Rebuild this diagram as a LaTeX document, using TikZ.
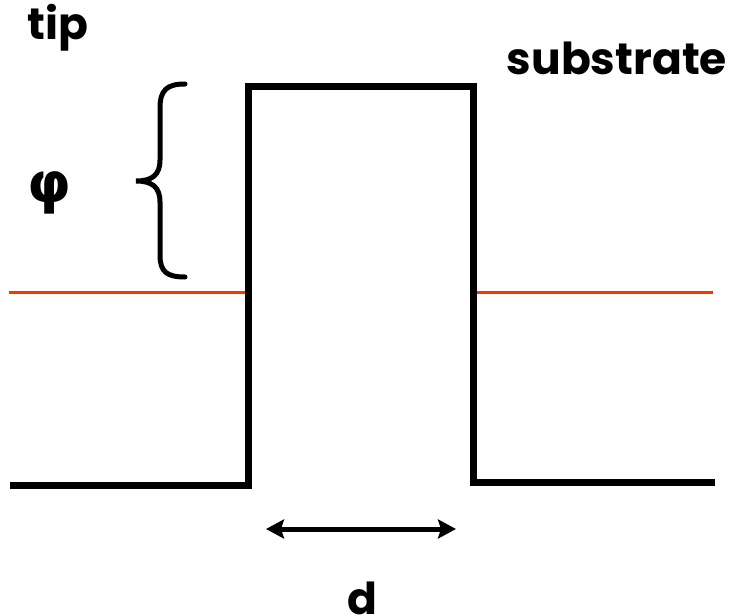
\documentclass[tikz,border=0pt]{standalone}
\usepackage{fontspec}
\setmainfont{Poppins}
\newfontfamily\greekfont{DejaVu Sans}
\usetikzlibrary{arrows.meta}
\tikzset{
  level/.style={line width=7pt, line cap=butt, line join=miter},
  fermi/.style={line width=3pt, draw={rgb,255:red,255;green,51;blue,0}},
  brace/.style={line width=5pt, line cap=round},
  dim/.style={line width=5pt, {Stealth[length=18pt,width=19pt,inset=3pt]}-{Stealth[length=18pt,width=19pt,inset=3pt]}},
  lbl/.style={font=\bfseries\fontsize{44}{50}\selectfont, inner sep=0pt}
}
\begin{document}
\begin{tikzpicture}[x=1pt,y=-1pt]
\useasboundingbox (0,0) rectangle (732,616);
% barrier profile
\draw[level] (10,485) -- (248.5,485) -- (248.5,86) -- (473.5,86) -- (473.5,482) -- (715,482);
% fermi levels
\draw[fermi] (9,292.5) -- (245,292.5);
\draw[fermi] (477,292.5) -- (713,292.5);
% brace
\draw[brace] (185,84) .. controls (167,84) and (160,90) .. (160,108) -- (160,160)
  .. controls (160,175) and (152,181) .. (136,181)
  .. controls (152,181) and (160,187) .. (160,202) -- (160,255)
  .. controls (160,272) and (167,277) .. (185,277);
% width arrow
\coordinate (dl) at (266,529);
\coordinate (dr) at (456,529);
\draw[dim] (dl) -- (dr);
% labels
\node[lbl] (tip) at (58,28) {tip};
\node[lbl] (sub) at (617,58) {substrate};
\node[lbl, font=\greekfont\bfseries\fontsize{56}{60}\selectfont] (phi) at (49,193) {φ};
\node[lbl] (d) at (362,598) {d};
\end{tikzpicture}
\end{document}
